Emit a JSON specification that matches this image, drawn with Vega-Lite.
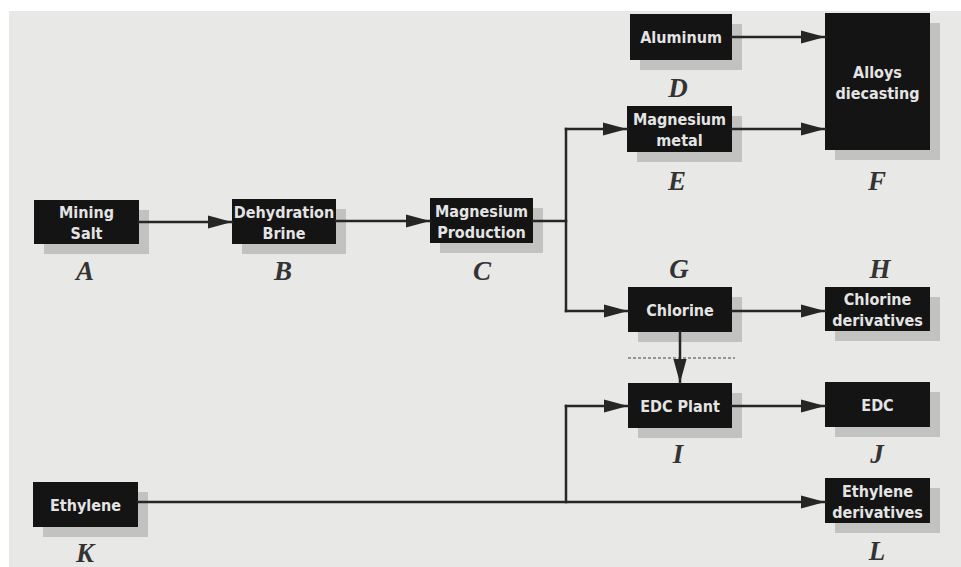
{
  "$schema": "https://vega.github.io/schema/vega-lite/v6.json",
  "width": 952,
  "height": 556,
  "autosize": {"type": "none"},
  "padding": {"left": 9, "top": 11, "right": 0, "bottom": 0},
  "background": "#ffffff",
  "config": {"view": {"stroke": null, "fill": "#e8e8e6"}},
  "datasets": {
    "nodes": [
      {"id": "A", "label": "Mining\nSalt", "x": 34, "x2": 139, "y": 200, "y2": 244, "lx": 85, "ly": 272},
      {"id": "B", "label": "Dehydration\nBrine", "x": 232, "x2": 336, "y": 199, "y2": 244, "lx": 283, "ly": 272},
      {"id": "C", "label": "Magnesium\nProduction", "x": 430, "x2": 533, "y": 198, "y2": 243, "lx": 482, "ly": 272},
      {"id": "D", "label": "Aluminum", "x": 630, "x2": 732, "y": 14, "y2": 60, "lx": 678, "ly": 89},
      {"id": "E", "label": "Magnesium\nmetal", "x": 627, "x2": 732, "y": 106, "y2": 152, "lx": 677, "ly": 182},
      {"id": "F", "label": "Alloys\ndiecasting", "x": 825, "x2": 930, "y": 13, "y2": 150, "lx": 877, "ly": 182},
      {"id": "G", "label": "Chlorine", "x": 628, "x2": 732, "y": 287, "y2": 332, "lx": 679, "ly": 270},
      {"id": "H", "label": "Chlorine\nderivatives", "x": 825, "x2": 930, "y": 287, "y2": 331, "lx": 880, "ly": 270},
      {"id": "I", "label": "EDC Plant", "x": 628, "x2": 732, "y": 383, "y2": 428, "lx": 678, "ly": 455},
      {"id": "J", "label": "EDC", "x": 825, "x2": 930, "y": 382, "y2": 427, "lx": 877, "ly": 455},
      {"id": "K", "label": "Ethylene", "x": 33, "x2": 138, "y": 482, "y2": 527, "lx": 85, "ly": 554},
      {"id": "L", "label": "Ethylene\nderivatives", "x": 825, "x2": 930, "y": 478, "y2": 523, "lx": 877, "ly": 552}
    ],
    "links": [
      {"kind": "flow", "x": 139, "y": 222, "x2": 232, "y2": 222, "arrow": "right"},
      {"kind": "flow", "x": 336, "y": 221, "x2": 430, "y2": 221, "arrow": "right"},
      {"kind": "flow", "x": 533, "y": 221, "x2": 566, "y2": 221, "arrow": "none"},
      {"kind": "flow", "x": 566, "y": 129, "x2": 566, "y2": 311, "arrow": "none"},
      {"kind": "flow", "x": 566, "y": 129, "x2": 627, "y2": 129, "arrow": "right"},
      {"kind": "flow", "x": 566, "y": 311, "x2": 628, "y2": 311, "arrow": "right"},
      {"kind": "flow", "x": 732, "y": 37, "x2": 825, "y2": 37, "arrow": "right"},
      {"kind": "flow", "x": 732, "y": 129, "x2": 825, "y2": 129, "arrow": "right"},
      {"kind": "flow", "x": 732, "y": 311, "x2": 825, "y2": 311, "arrow": "right"},
      {"kind": "flow", "x": 680, "y": 332, "x2": 680, "y2": 383, "arrow": "down"},
      {"kind": "flow", "x": 732, "y": 406, "x2": 825, "y2": 406, "arrow": "right"},
      {"kind": "flow", "x": 138, "y": 502, "x2": 825, "y2": 502, "arrow": "right"},
      {"kind": "flow", "x": 566, "y": 502, "x2": 566, "y2": 406, "arrow": "none"},
      {"kind": "flow", "x": 566, "y": 406, "x2": 628, "y2": 406, "arrow": "right"},
      {"kind": "marker", "x": 628, "y": 358, "x2": 735, "y2": 358, "arrow": "none"}
    ]
  },
  "layer": [
    {
      "data": {"name": "nodes"},
      "mark": {"type": "rect", "color": "#c2c2c0", "xOffset": 10, "x2Offset": 10, "yOffset": 10, "y2Offset": 10},
      "encoding": {
        "x": {"field": "x", "type": "quantitative", "scale": {"domain": [9, 961], "nice": false, "zero": false}, "axis": null},
        "x2": {"field": "x2"},
        "y": {"field": "y", "type": "quantitative", "scale": {"domain": [11, 567], "nice": false, "zero": false, "reverse": true}, "axis": null},
        "y2": {"field": "y2"}
      }
    },
    {
      "data": {"name": "nodes"},
      "mark": {"type": "rect", "color": "#141414"},
      "encoding": {
        "x": {"field": "x", "type": "quantitative", "axis": null},
        "x2": {"field": "x2"},
        "y": {"field": "y", "type": "quantitative", "axis": null},
        "y2": {"field": "y2"}
      }
    },
    {
      "data": {"name": "links"},
      "transform": [{"filter": "datum.kind === 'marker'"}],
      "mark": {"type": "rule", "color": "#7a7a7a", "strokeWidth": 1.5, "strokeDash": [3, 2]},
      "encoding": {
        "x": {"field": "x", "type": "quantitative", "axis": null},
        "x2": {"field": "x2"},
        "y": {"field": "y", "type": "quantitative", "axis": null},
        "y2": {"field": "y2"}
      }
    },
    {
      "data": {"name": "links"},
      "transform": [{"filter": "datum.kind === 'flow'"}],
      "mark": {"type": "rule", "color": "#262626", "strokeWidth": 2.5, "strokeCap": "square"},
      "encoding": {
        "x": {"field": "x", "type": "quantitative", "axis": null},
        "x2": {"field": "x2"},
        "y": {"field": "y", "type": "quantitative", "axis": null},
        "y2": {"field": "y2"}
      }
    },
    {
      "data": {"name": "links"},
      "transform": [{"filter": "datum.arrow !== 'none'"}],
      "mark": {"type": "point", "filled": true, "opacity": 1, "color": "#262626", "size": 576, "strokeWidth": 0},
      "encoding": {
        "x": {"field": "x2", "type": "quantitative", "axis": null},
        "y": {"field": "y2", "type": "quantitative", "axis": null},
        "shape": {"field": "arrow", "type": "nominal", "legend": null,
          "scale": {"domain": ["right", "down"], "range": ["M0,0L-2,-0.55L-2,0.55Z", "M0,0L-0.55,-2L0.55,-2Z"]}}
      }
    },
    {
      "data": {"name": "nodes"},
      "transform": [
        {"calculate": "(datum.x + datum.x2) / 2", "as": "cx"},
        {"calculate": "(datum.y + datum.y2) / 2 + 1 - (replace(datum.label, '\\n', '') !== datum.label ? 10 : 0)", "as": "cy"}
      ],
      "mark": {"type": "text", "font": "'DejaVu Sans Condensed', 'Liberation Sans', sans-serif", "fontWeight": "bold", "fontSize": 16, "color": "#e4e4e4", "lineBreak": "\n", "lineHeight": 21, "align": "center", "baseline": "middle"},
      "encoding": {
        "x": {"field": "cx", "type": "quantitative", "axis": null},
        "y": {"field": "cy", "type": "quantitative", "axis": null},
        "text": {"field": "label"}
      }
    },
    {
      "data": {"name": "nodes"},
      "mark": {"type": "text", "font": "Liberation Serif", "fontWeight": "bold", "fontStyle": "italic", "fontSize": 27, "color": "#333333", "align": "center", "baseline": "middle"},
      "encoding": {
        "x": {"field": "lx", "type": "quantitative", "axis": null},
        "y": {"field": "ly", "type": "quantitative", "axis": null},
        "text": {"field": "id"}
      }
    }
  ]
}
